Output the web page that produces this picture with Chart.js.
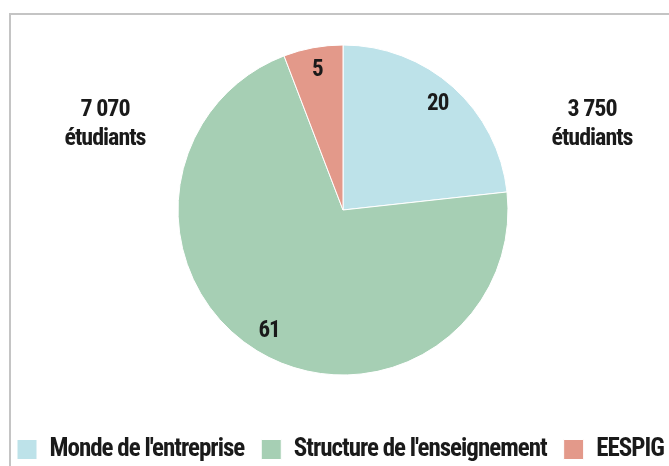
<!DOCTYPE html>
<html>
  <head>
    <title>Chart</title>
    <meta charset="UTF-8" />
    <script src="https://cdn.jsdelivr.net/npm/chart.js@4"></script>
    <style>
      body { margin: 0; background: #fff; overflow: hidden; }
      #frame { position: absolute; left: 9px; top: 13px; width: 720px; height: 520px; border: 2px solid #c4c4c4; }
      #wrap { position: absolute; left: 0; top: 0; width: 700px; height: 466px; }
    </style>
  </head>
  <body>
    <div id="frame"></div>
    <div id="wrap"><canvas id="myChart"></canvas></div>
    <script>
      var labels = ["Monde de l'entreprise", "Structure de l'enseignement", "EESPIG"];
      var values = [20, 61, 5];
      var colors = ["#bde2e9", "#a6cfb4", "#e3998a"];
      // annotations outside the pie
      var noteTop = ["7 070", "3 750"];
      var noteBottom = ["étudiants", "étudiants"];

      var fontFamily = "'Roboto Condensed', 'Liberation Sans Narrow', 'DejaVu Sans Condensed', Roboto, sans-serif";

      // the source font is narrower than anything installed, so tighten letters a bit
      var tighten = {
        id: "tighten",
        beforeLayout: function(chart) { chart.ctx.letterSpacing = "-1px"; },
        beforeDraw: function(chart) { chart.ctx.letterSpacing = "-1px"; }
      };

      var sliceLabels = {
        id: "sliceLabels",
        afterDatasetsDraw: function(chart) {
          var ctx = chart.ctx;
          var meta = chart.getDatasetMeta(0);
          ctx.save();
          ctx.letterSpacing = "-1px";
          ctx.fillStyle = "#1a1a1a";
          ctx.font = "bold 23px " + fontFamily;
          ctx.textAlign = "center";
          ctx.textBaseline = "middle";
          meta.data.forEach(function(arc, i) {
            var p = arc.getProps(["x", "y", "startAngle", "endAngle", "outerRadius"], true);
            var mid = (p.startAngle + p.endAngle) / 2;
            var r = p.outerRadius * 0.86;
            ctx.fillText(String(values[i]), p.x + Math.cos(mid) * r, p.y + Math.sin(mid) * r);
          });
          // side notes
          var a = meta.data[0];
          var cx = a.x, cy = a.y;
          ctx.font = "bold 24px " + fontFamily;
          var xs = [cx - 238, cx + 249];
          for (var j = 0; j < noteTop.length; j++) {
            ctx.fillText(noteTop[j], xs[j], cy - 100);
            ctx.fillText(noteBottom[j], xs[j], cy - 71);
          }
          ctx.restore();
        }
      };

      var ctx = document.getElementById("myChart").getContext("2d");
      var chart = new Chart(ctx, {
        type: "pie",
        data: {
          labels: labels,
          datasets: [
            {
              data: values,
              backgroundColor: colors,
              borderColor: "#ffffff",
              borderWidth: 1,
              radius: 165
            }
          ]
        },
        options: {
          responsive: true,
          maintainAspectRatio: false,
          animation: false,
          layout: { padding: { top: 0, left: 0, right: 14, bottom: -6 } },
          plugins: {
            tooltip: { enabled: false },
            legend: {
              position: "bottom",
              align: "start",
              labels: {
                color: "#1a1a1a",
                font: { family: fontFamily, size: 25, weight: "bold" },
                boxWidth: 20,
                boxHeight: 20,
                padding: 17
              }
            }
          }
        },
        plugins: [tighten, sliceLabels]
      });
    </script>
  </body>
</html>
